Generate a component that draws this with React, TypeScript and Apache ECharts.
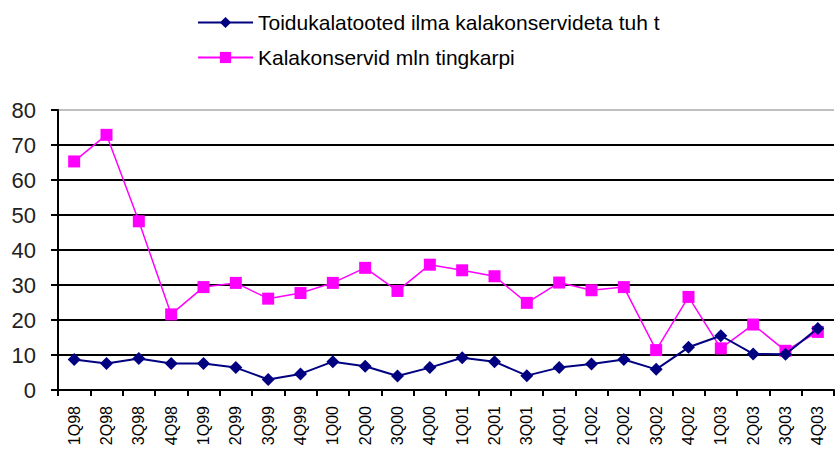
import React, { useEffect, useRef } from "react";
import * as echarts from "echarts";

const categories = [
  "1Q98", "2Q98", "3Q98", "4Q98", "1Q99", "2Q99", "3Q99", "4Q99",
  "1Q00", "2Q00", "3Q00", "4Q00", "1Q01", "2Q01", "3Q01", "4Q01",
  "1Q02", "2Q02", "3Q02", "4Q02", "1Q03", "2Q03", "3Q03", "4Q03",
];

const seriesFishFood = [
  8.7, 7.6, 9.0, 7.6, 7.6, 6.4, 3.0, 4.6,
  8.1, 6.8, 4.0, 6.4, 9.2, 8.1, 4.1, 6.4,
  7.4, 8.7, 5.9, 12.2, 15.5, 10.3, 10.2, 17.6,
];

const seriesCans = [
  65.3, 72.9, 48.2, 21.6, 29.4, 30.6, 26.1, 27.7,
  30.6, 34.9, 28.3, 35.8, 34.2, 32.5, 24.9, 30.7,
  28.5, 29.4, 11.4, 26.6, 11.9, 18.7, 11.2, 16.6,
];

const seriesNames = [
  "Toidukalatooted ilma kalakonservideta tuh t",
  "Kalakonservid mln tingkarpi",
];

const yTicks = { min: 0, max: 80, interval: 10 };

export default function App() {
  const ref = useRef<HTMLDivElement>(null);
  useEffect(() => {
    if (!ref.current) return;
    const chart = echarts.init(ref.current, undefined, { renderer: "svg" });
    const font = "Arial, 'Liberation Sans', sans-serif";
    chart.setOption({
      animation: false,
      backgroundColor: "#ffffff",
      textStyle: { fontFamily: font },
      legend: {
        orient: "vertical",
        left: 197,
        top: 12,
        padding: 0,
        itemWidth: 55,
        itemHeight: 14,
        itemGap: 14,
        textStyle: { fontFamily: font, fontSize: 21, color: "#000" },
        data: seriesNames,
      },
      grid: { left: 58, top: 110, right: 2, bottom: 61, containLabel: false },
      xAxis: {
        type: "category",
        data: categories,
        boundaryGap: true,
        axisLine: { lineStyle: { color: "#000", width: 2 } },
        axisTick: { show: true, alignWithLabel: false, length: 6, lineStyle: { color: "#000", width: 2 } },
        axisLabel: {
          rotate: 90,
          interval: 0,
          color: "#000",
          fontFamily: font,
          fontSize: 16,
          margin: 16,
        },
        splitLine: { show: false },
      },
      yAxis: {
        type: "value",
        min: yTicks.min,
        max: yTicks.max,
        interval: yTicks.interval,
        axisLine: { show: true, lineStyle: { color: "#000", width: 2 } },
        axisTick: { show: true, length: 7, lineStyle: { color: "#000", width: 2 } },
        axisLabel: { color: "#222", fontFamily: font, fontSize: 22, margin: 22 },
        splitLine: {
          show: true,
          lineStyle: {
            color: ["#000", "#000", "#000", "#000", "#000", "#000", "#000", "#000", "#c0c0c0"],
            width: 2,
          },
        },
      },
      series: [
        {
          name: seriesNames[0],
          type: "line",
          data: seriesFishFood,
          symbol: "diamond",
          symbolSize: 13,
          itemStyle: { color: "#000080" },
          lineStyle: { color: "#000080", width: 2 },
          z: 3,
        },
        {
          name: seriesNames[1],
          type: "line",
          data: seriesCans,
          symbol: "rect",
          symbolSize: 12,
          itemStyle: { color: "#ff00ff" },
          lineStyle: { color: "#ff00ff", width: 1.5 },
          z: 2,
        },
      ],
    });
    return () => chart.dispose();
  }, []);
  return <div ref={ref} style={{ width: 836, height: 451, position: "absolute", left: 0, top: 0 }} />;
}
